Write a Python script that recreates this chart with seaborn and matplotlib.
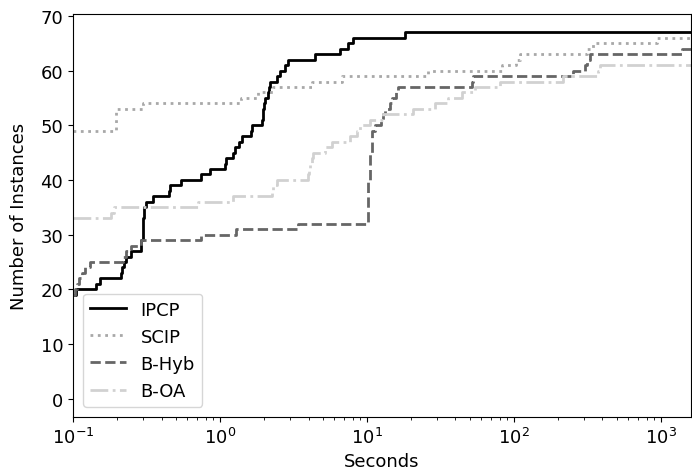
import matplotlib
matplotlib.use("Agg")
import matplotlib.pyplot as plt
import seaborn as sns
import pandas as pd

# Time (s) at which each solver reached the given number of solved instances
ipcp_t = [0.1, 0.105, 0.144, 0.152, 0.213, 0.217, 0.222, 0.231, 0.249, 0.288,
          0.292, 0.300, 0.303, 0.315, 0.35, 0.45, 0.455, 0.546, 0.746, 0.851,
          1.08, 1.10, 1.22, 1.26, 1.35, 1.41, 1.62, 1.64, 1.92, 1.95, 1.97,
          1.99, 2.01, 2.12, 2.16, 2.18, 2.43, 2.56, 2.77, 2.92, 4.43, 6.55,
          7.47, 8.08, 18.2]
ipcp_n = [19, 20, 21, 22, 23, 24, 25, 26, 27, 28,
          29, 33, 35, 36, 37, 38, 39, 40, 41, 42,
          43, 44, 45, 46, 47, 48, 49, 50, 51, 52, 53,
          54, 55, 56, 57, 58, 59, 60, 61, 62, 63, 64,
          65, 66, 67]

scip_t = [0.1, 0.195, 0.30, 1.40, 1.82, 2.31, 4.2, 6.73, 26.1, 82.4, 104, 110,
          312, 347, 934]
scip_n = [49, 53, 54, 55, 56, 57, 58, 59, 60, 61, 62, 63, 64, 65, 66]

bhyb_t = [0.1, 0.103, 0.106, 0.11, 0.115, 0.12, 0.13, 0.22, 0.23, 0.249,
          0.292, 0.746, 1.29, 3.41, 10.1, 10.4, 10.8, 11.3, 12.5, 12.9, 13.2,
          14.3, 14.7, 15.8, 16.3, 52.0, 52.8, 253, 305, 312, 329, 1384]
bhyb_n = [19, 20, 21, 22, 23, 24, 25, 26, 27, 28,
          29, 30, 31, 32, 40, 45, 49, 50, 51, 52, 53,
          54, 55, 56, 57, 58, 59, 60, 61, 62, 63, 64]

boa_t = [0.1, 0.182, 0.19, 0.708, 1.22, 2.25, 2.3, 2.45, 3.99, 4.05, 4.1, 4.2,
         4.31, 5.2, 5.75, 7.66, 8.5, 8.96, 10.5, 12.9, 20.7, 29.0, 35.7, 44.0,
         54.3, 80.4, 216, 375, 385]
boa_n = [33, 34, 35, 36, 37, 38, 39, 40, 41, 42, 43, 44,
         45, 46, 47, 48, 49, 50, 51, 52, 53, 54, 55, 56,
         57, 58, 59, 60, 61]

solvers = ["IPCP", "SCIP", "B-Hyb", "B-OA"]
times = [ipcp_t, scip_t, bhyb_t, boa_t]
counts = [ipcp_n, scip_n, bhyb_n, boa_n]

T_MIN, T_MAX = 0.1, 1600

colors = {"IPCP": "black", "SCIP": "0.66", "B-Hyb": "0.4", "B-OA": "0.82"}
styles = {"IPCP": "-", "SCIP": ":", "B-Hyb": "--", "B-OA": "-."}

plt.rcParams["font.size"] = 13

fig, ax = plt.subplots(figsize=(6.92, 4.77), dpi=100)
fig.subplots_adjust(left=73 / 692, right=691 / 692, top=1 - 15 / 477,
                    bottom=1 - 418 / 477)

for name, t, n in zip(solvers, times, counts):
    # hold the final count until the time limit
    df = pd.DataFrame({"Seconds": t + [T_MAX], "Instances": n + [n[-1]]})
    sns.lineplot(data=df, x="Seconds", y="Instances", ax=ax,
                 estimator=None, errorbar=None, sort=True,
                 color=colors[name], linestyle=styles[name], linewidth=2,
                 drawstyle="steps-post", label=name)

ax.set_xscale("log")
ax.set_xlim(T_MIN, T_MAX)
ax.set_ylim(-3.35, 70.35)
ax.set_yticks(range(0, 71, 10))
ax.set_xlabel("Seconds")
ax.set_ylabel("Number of Instances", labelpad=9)
ax.legend(loc="lower left", fontsize=13, borderaxespad=0.55)

fig.savefig("out.png", dpi=100)
